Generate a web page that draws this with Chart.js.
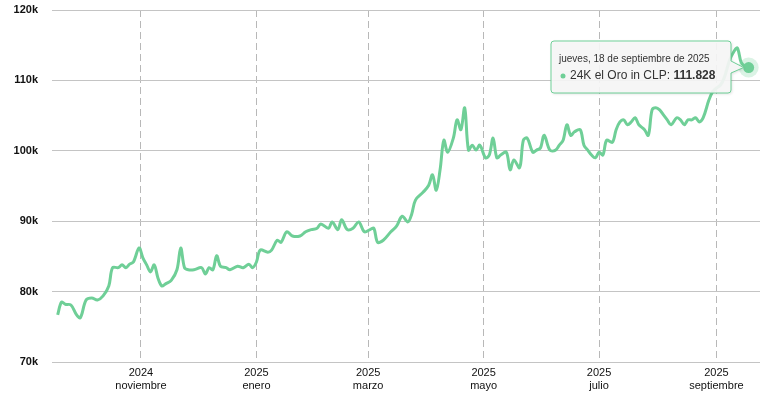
<!DOCTYPE html>
<html><head><meta charset="utf-8">
<script src="https://cdn.jsdelivr.net/npm/chart.js@4/dist/chart.umd.min.js"></script>
<style>html,body{margin:0;padding:0;background:#fff}#c{display:block}</style>
</head><body>
<div style="width:779px;height:403px"><canvas id="c"></canvas></div>
<script>
// day offsets from 18 Sep 2024
const days = [0,2,4,7,10,12,15,18,21,24,27,29,32,34,36,38,40,43,45,47,49,51,53,55,57,60,63,65,67,69,72,76,78,80,82,84,86,89,91,95,98,101,103,105,107,111,113,116,118,121,124,128,131,134,137,139,143,145,148,150,153,156,159,162,165,167,169,172,176,179,182,185,187,189,193,196,198,200,202,204,206,209,211,213,215,217,219,221,223,226,228,230,232,234,237,239,241,244,246,248,251,253,255,257,260,263,265,267,269,271,273,276,278,280,282,284,286,288,290,293,295,297,299,301,303,305,307,310,312,314,316,318,320,322,324,327,329,331,333,335,337,339,341,344,346,348,350,352,355,357,359,361,363,365];
// values in thousands CLP
const values = [76.7,78.5,78.2,78.1,76.7,76.3,78.8,79.1,78.8,79.4,80.8,83.4,83.4,83.8,83.4,83.9,84.2,86.2,84.8,83.8,82.8,83.8,81.9,80.8,81.1,81.6,83.1,86.2,83.4,83.1,83.1,83.4,82.5,83.4,83.1,85.1,83.6,83.4,83.1,83.6,83.4,83.9,83.4,84.2,85.9,85.6,85.9,87.3,87.0,88.5,87.9,87.9,88.5,88.8,89.0,89.6,89.0,89.9,88.8,90.2,88.8,89.0,89.9,88.5,88.8,89.0,87.0,87.3,88.5,89.3,90.7,89.9,91.0,93.0,94.1,95.1,96.6,94.4,97.3,101.5,99.8,101.8,104.4,103.0,106.1,100.1,100.8,100.1,100.8,99.0,99.4,101.8,99.0,99.4,99.8,97.3,98.7,97.6,101.5,101.8,99.8,100.1,100.4,102.2,100.1,100.1,100.8,101.5,103.7,102.2,102.7,103.0,100.8,100.1,99.4,99.0,99.8,99.4,101.5,101.2,103.0,104.1,104.4,103.7,104.1,104.7,103.7,103.0,102.2,105.8,106.1,105.8,105.1,104.4,103.7,104.7,104.4,103.7,104.4,104.4,104.7,104.1,104.7,107.2,108.4,108.9,109.3,110.3,112.9,114.0,114.6,112.6,112.0,111.828];
const tickDays = [44,105,164,225,286,348];
const tickLabels = [["2024","noviembre"],["2025","enero"],["2025","marzo"],["2025","mayo"],["2025","julio"],["2025","septiembre"]];
const yTicks = [70,80,90,100,110,120];
const seriesName = "24K el Oro in CLP";
const tooltipTitle = "jueves, 18 de septiembre de 2025";
const tooltipValue = "111.828";
const green = '#6fcf97';

const tipPlugin = {
  id:'tip',
  afterDraw(chart){
    const ctx = chart.ctx;
    const meta = chart.getDatasetMeta(0);
    const p = meta.data[meta.data.length-1];
    ctx.save();
    ctx.fillStyle='rgba(111,207,151,0.25)';
    ctx.beginPath();ctx.arc(p.x,p.y,10,0,Math.PI*2);ctx.fill();
    ctx.fillStyle=green;
    ctx.beginPath();ctx.arc(p.x,p.y,5.5,0,Math.PI*2);ctx.fill();
    const bx=551,by=41,bw=180,bh=52;
    ctx.shadowColor='rgba(0,0,0,0.15)';ctx.shadowOffsetX=1;ctx.shadowOffsetY=1;ctx.shadowBlur=3;
    ctx.fillStyle='rgba(247,247,247,0.92)';
    ctx.beginPath();ctx.moveTo(bx+3,by);ctx.lineTo(bx+bw-3,by);ctx.quadraticCurveTo(bx+bw,by,bx+bw,by+3);
    ctx.lineTo(bx+bw,by+20);ctx.lineTo(p.x-5,p.y);ctx.lineTo(bx+bw,by+32);
    ctx.lineTo(bx+bw,by+bh-3);ctx.quadraticCurveTo(bx+bw,by+bh,bx+bw-3,by+bh);
    ctx.lineTo(bx+3,by+bh);ctx.quadraticCurveTo(bx,by+bh,bx,by+bh-3);ctx.lineTo(bx,by+3);ctx.quadraticCurveTo(bx,by,bx+3,by);
    ctx.closePath();ctx.fill();
    ctx.shadowColor='transparent';
    ctx.strokeStyle=green;ctx.lineWidth=1;ctx.stroke();
    ctx.fillStyle='#333';ctx.textBaseline='middle';
    ctx.font='10px "Liberation Sans", Arial';
    ctx.fillText(tooltipTitle,bx+8,by+18);
    ctx.fillStyle=green;ctx.beginPath();ctx.arc(bx+12,by+35,2.5,0,Math.PI*2);ctx.fill();
    ctx.fillStyle='#333';ctx.font='12px "Liberation Sans", Arial';
    const t=seriesName+": ";
    ctx.fillText(t,bx+19,by+35);
    const w=ctx.measureText(t).width;
    ctx.font='bold 12px "Liberation Sans", Arial';
    ctx.fillText(tooltipValue,bx+19+w,by+35);
    ctx.restore();
  }
};

new Chart(document.getElementById('c'),{
  type:'line',
  data:{datasets:[{label:seriesName,data:days.map((d,i)=>({x:d,y:values[i]})),borderColor:green,borderWidth:3,pointRadius:0,tension:0.35,fill:false}]},
  options:{
    responsive:true,maintainAspectRatio:false,animation:false,
    layout:{padding:{top:10,right:19,left:0,bottom:0}},
    plugins:{legend:{display:false},tooltip:{enabled:false}},
    scales:{
      x:{type:'linear',min:-3,max:371,
        afterBuildTicks(s){s.ticks=tickDays.map(v=>({value:v}));},
        afterFit(s){s.height=41;s.paddingLeft=0;s.paddingRight=0;},
        ticks:{autoSkip:false,maxRotation:0,padding:4,color:'#111',font:{family:'"Liberation Sans", Arial',size:11},
          callback(v){const i=tickDays.indexOf(v);return i>=0?tickLabels[i]:'';}},
        grid:{color:'#b8b8b8',lineWidth:1,drawTicks:false},
        border:{display:false,dash:[7,4]}
      },
      y:{min:70,max:120,
        afterBuildTicks(s){s.ticks=yTicks.map(v=>({value:v}));},
        afterFit(s){s.width=52;s.paddingTop=0;s.paddingBottom=0;},
        ticks:{padding:14,color:'#111',font:{family:'"Liberation Sans", Arial',size:11,weight:'bold'},callback:v=>v+'k'},
        grid:{color:'#c4c4c4',lineWidth:1,drawTicks:false},
        border:{display:false}
      }
    }
  },
  plugins:[tipPlugin]
});
</script>
</body></html>
